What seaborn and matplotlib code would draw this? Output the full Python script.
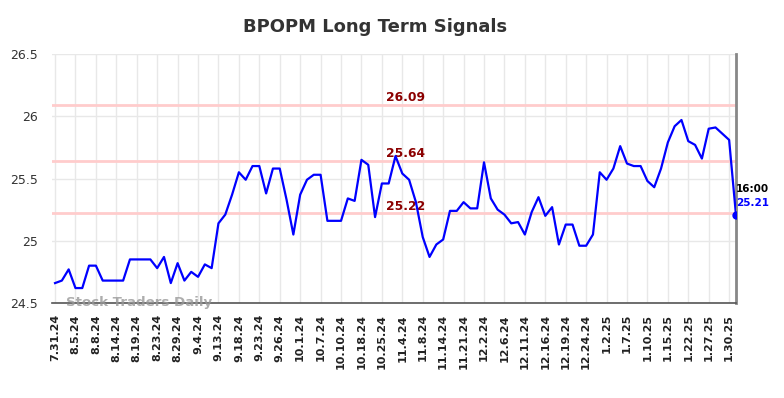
import numpy as np
import pandas as pd
import matplotlib
matplotlib.use("Agg")
import matplotlib.pyplot as plt
import seaborn as sns

# closing prices (one per trading session)
prices = [24.66, 24.68, 24.77, 24.62, 24.62, 24.80, 24.80, 24.68, 24.68, 24.68,
          24.68, 24.85, 24.85, 24.85, 24.85, 24.78, 24.87, 24.66, 24.82, 24.68,
          24.75, 24.71, 24.81, 24.78, 25.14, 25.21, 25.37, 25.55, 25.49, 25.60,
          25.60, 25.38, 25.58, 25.58, 25.33, 25.05, 25.37, 25.49, 25.53, 25.53,
          25.16, 25.16, 25.16, 25.34, 25.32, 25.65, 25.61, 25.19, 25.46, 25.46,
          25.68, 25.54, 25.49, 25.31, 25.03, 24.87, 24.97, 25.01, 25.24, 25.24,
          25.31, 25.26, 25.26, 25.63, 25.34, 25.25, 25.21, 25.14, 25.15, 25.05,
          25.23, 25.35, 25.20, 25.27, 24.97, 25.13, 25.13, 24.96, 24.96, 25.05,
          25.55, 25.49, 25.58, 25.76, 25.62, 25.60, 25.60, 25.48, 25.43, 25.58,
          25.79, 25.92, 25.97, 25.80, 25.77, 25.66, 25.90, 25.91, 25.86, 25.81,
          25.21]

tick_labels = ["7.31.24", "8.5.24", "8.8.24", "8.14.24", "8.19.24", "8.23.24",
               "8.29.24", "9.4.24", "9.13.24", "9.18.24", "9.23.24", "9.26.24",
               "10.1.24", "10.7.24", "10.10.24", "10.18.24", "10.25.24", "11.4.24",
               "11.8.24", "11.14.24", "11.21.24", "12.2.24", "12.6.24", "12.11.24",
               "12.16.24", "12.19.24", "12.24.24", "1.2.25", "1.7.25", "1.10.25",
               "1.15.25", "1.22.25", "1.27.25", "1.30.25"]

levels = [26.09, 25.64, 25.22]
last_time = "16:00"

df = pd.DataFrame({"idx": np.arange(len(prices)), "price": prices})

fig = plt.figure(figsize=(7.84, 3.98), dpi=100)
ax = fig.add_axes([0.0663, 0.2387, 0.8724, 0.6256])

# support / resistance lines
for lv in levels:
    ax.axhline(lv, color="#ffcccc", lw=2, zorder=1)
    ax.annotate(f"{lv:.2f}", xy=(51.5, lv), xytext=(0, 0.5), textcoords="offset points",
                ha="center", va="bottom", color="#8b0000", fontsize=8.8, fontweight="bold")

sns.lineplot(data=df, x="idx", y="price", color="#0000ff", lw=1.6, ax=ax, zorder=3)

last_x = df["idx"].iloc[-1]
last_y = df["price"].iloc[-1]
ax.plot(last_x, last_y, "o", color="#0000ff", ms=5, zorder=4)
ax.annotate(last_time, xy=(last_x, last_y), xytext=(0, 14.5), textcoords="offset points",
            ha="left", va="bottom", fontsize=7.5, fontweight="bold", color="black")
ax.annotate(f"{last_y:.2f}", xy=(last_x, last_y), xytext=(0, 4.5), textcoords="offset points",
            ha="left", va="bottom", fontsize=7.5, fontweight="bold", color="#0000ff")

ax.set_xlim(-0.45, 100)
ax.set_ylim(24.5, 26.5)
ax.set_xticks(df["idx"][::3])
ax.set_xticklabels(tick_labels, rotation=90, fontsize=8, fontweight="bold", color="#222222")
ax.set_yticks([24.5, 25, 25.5, 26, 26.5])
ax.set_yticklabels(["24.5", "25", "25.5", "26", "26.5"], fontsize=9, color="#333333")
ax.tick_params(axis="x", length=0, pad=8)
ax.tick_params(axis="y", length=0, pad=10)
ax.grid(True, color="#e8e8e8", lw=1)
ax.set_axisbelow(True)
ax.set_xlabel("")
ax.set_ylabel("")

for side in ["top", "left"]:
    ax.spines[side].set_visible(False)
ax.spines["bottom"].set_color("#555555")
ax.spines["bottom"].set_linewidth(1.2)
ax.spines["right"].set_color("#888888")
ax.spines["right"].set_linewidth(2)

ax.text(0.021, 0.0, "Stock Traders Daily", transform=ax.transAxes, ha="left", va="center",
        fontsize=9.6, fontweight="bold", color="#999999", alpha=0.8)

fig.suptitle("BPOPM Long Term Signals", x=0.478, y=0.955, fontsize=13,
             fontweight="bold", color="#333333")

fig.savefig("out.png", dpi=100)
